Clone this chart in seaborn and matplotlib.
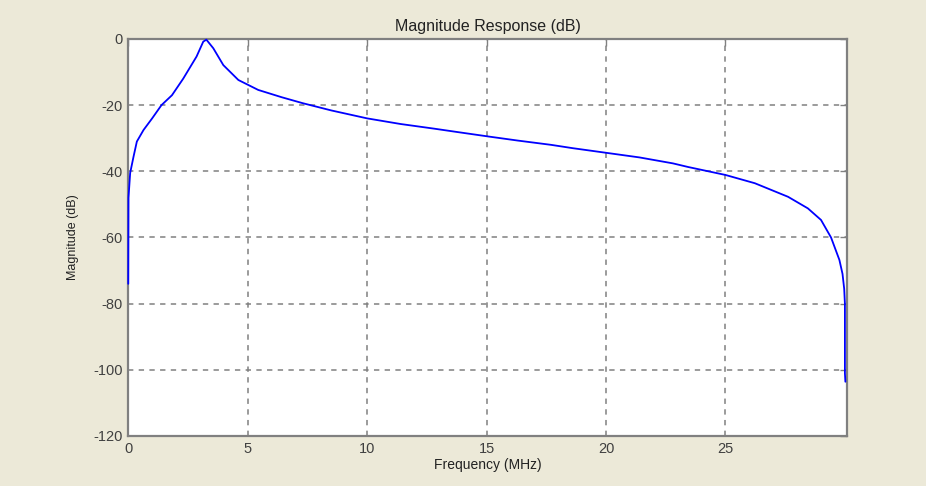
import numpy as np
import pandas as pd
import seaborn as sns
import matplotlib
matplotlib.use("Agg")
import matplotlib.pyplot as plt

# frequency points (MHz) and magnitude (dB)
freq_mhz = [0.0, 0.01, 0.08, 0.22, 0.36, 0.64, 1.0, 1.39, 1.83, 2.3, 2.86, 3.14,
            3.27, 3.56, 3.98, 4.61, 5.44, 6.42, 7.3, 8.5, 10.0, 11.4, 12.8,
            13.75, 15.1, 16.3, 17.7, 18.6, 20.1, 21.4, 22.8, 23.44, 25.0, 26.23,
            27.62, 28.45, 29.0, 29.42, 29.77, 29.9, 29.97, 30.0, 30.0, 30.02]
magnitude_db = [-74.0, -48.0, -40.5, -35.6, -31.0, -27.5, -24.0, -20.0, -17.0,
                -12.0, -5.3, -0.8, -0.2, -2.8, -7.9, -12.4, -15.4, -17.6, -19.4,
                -21.6, -24.0, -25.7, -27.1, -28.1, -29.5, -30.7, -32.0, -33.0,
                -34.5, -35.8, -37.6, -38.7, -41.1, -43.6, -47.7, -51.2, -54.7,
                -60.0, -66.8, -71.0, -75.5, -80.0, -101.0, -103.6]

x_ticks = [0, 5, 10, 15, 20, 25]
y_ticks = [0, -20, -40, -60, -80, -100, -120]

df = pd.DataFrame({"freq": freq_mhz, "mag": magnitude_db})

sns.set_style("white")
plt.rcParams["font.family"] = ["Liberation Sans", "DejaVu Sans"]
plt.rcParams["axes.unicode_minus"] = False

bg = "#ECE9D8"
fig = plt.figure(figsize=(9.26, 4.86), dpi=100, facecolor=bg)
ax = fig.add_axes([0.1385, 0.1029, 0.7765, 0.8169])
ax.set_facecolor("white")

sns.lineplot(data=df, x="freq", y="mag", color="#0000FF", linewidth=1.3,
             ax=ax, estimator=None, sort=False, zorder=3)
ax.lines[0].set_clip_on(False)

ax.set_xlim(0, 30.1)
ax.set_ylim(-120, 0)
ax.set_xticks(x_ticks)
ax.set_yticks(y_ticks)
ax.grid(True, color="#808080", linestyle=(0, (3.5, 3.5)), linewidth=1.1)
ax.tick_params(direction="in", length=5, width=1, color="#808080",
               top=True, right=True, labelsize=10.5, labelcolor="#404040", pad=4)
for s in ax.spines.values():
    s.set_color("#808080")
    s.set_linewidth(1.6)

ax.set_title("Magnitude Response (dB)", fontsize=11.5, color="#222222", pad=6)
ax.set_xlabel("Frequency (MHz)", fontsize=10, color="#222222", labelpad=2)
ax.set_ylabel("Magnitude (dB)", fontsize=9, color="#222222", labelpad=10)

fig.savefig("out.png", dpi=100, facecolor=bg)
